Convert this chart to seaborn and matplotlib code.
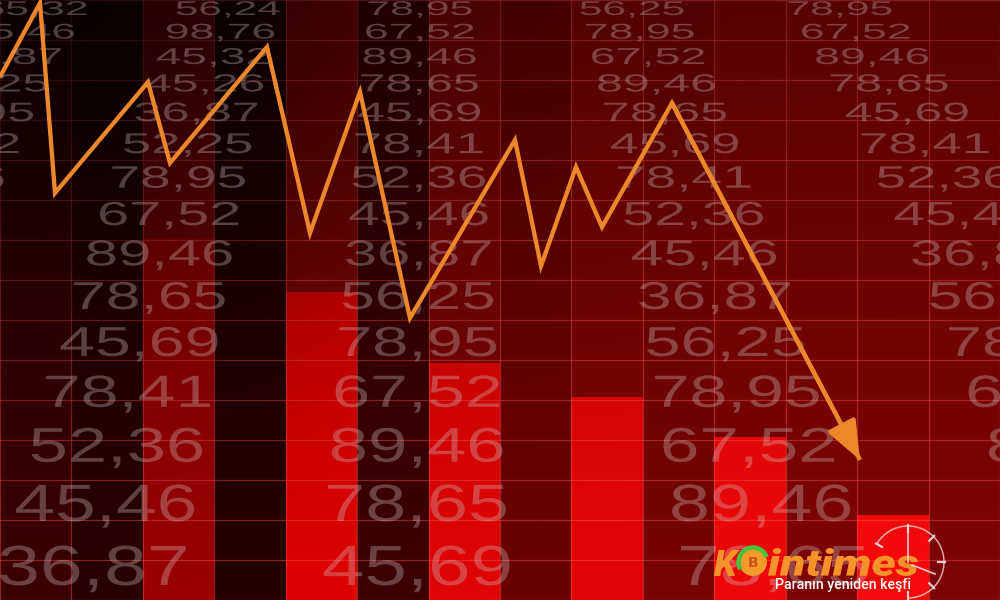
import numpy as np
import matplotlib
matplotlib.use("Agg")
import matplotlib.pyplot as plt
import pandas as pd
import seaborn as sns
from matplotlib.textpath import TextPath
from matplotlib.patches import PathPatch, Circle, Arc
from matplotlib.font_manager import FontProperties
from matplotlib.transforms import Affine2D

# DATA
# columns of the bar panel, height of each column (px from bottom) and its fill
columns = [f"c{i}" for i in range(14)]
column_height = [600, 600, 362, 600, 308, 600, 237, 600, 203, 600, 163, 600, 85, 600]
column_color = ["#3c0000", "#2a0000", "#9c0000", "#260000", "#e00000", "#3c0000", "#e00404",
                "#6a0202", "#e40606", "#760404", "#ec0808", "#7c0404", "#f40a0a", "#7c0404"]

# falling price line (last point is the arrow tip)
trend_time = [0, 40, 55, 148, 170, 267, 310, 360, 410, 515, 541, 576, 602, 672, 860]
trend_price = [523, 597, 407, 518, 437, 553, 367, 508, 282, 460, 334, 433, 373, 497, 140]

# quote board, one list per column, top row first
quotes_1 = ["65,32", "45,46", "36,87", "56,25", "78,95", "67,52", "89,46", "78,65",
            "45,69", "78,41", "52,36", "45,46", "36,87", "56,25", "78,95"]
quotes_2 = ["56,24", "98,76", "45,32", "45,26", "36,87", "52,25", "78,95", "67,52",
            "89,46", "78,65", "45,69", "78,41", "52,36", "45,46", "36,87"]
quotes_3 = ["78,95", "67,52", "89,46", "78,65", "45,69", "78,41", "52,36", "45,46",
            "36,87", "56,25", "78,95", "67,52", "89,46", "78,65", "45,69"]
quotes_4 = ["56,25", "78,95", "67,52", "89,46", "78,65", "45,69", "78,41", "52,36",
            "45,46", "36,87", "56,25", "78,95", "67,52", "89,46", "78,65"]
quotes_5 = ["78,95", "67,52", "89,46", "78,65", "45,69", "78,41", "52,36", "45,46",
            "36,87", "56,25", "78,95", "67,52", "89,46", "78,65", "45,69"]
quote_board = [quotes_1, quotes_2, quotes_3, quotes_4, quotes_5]

brand = "intimes"
slogan = "Paranın yeniden keşfi"

# FIGURE
W, H = 1000, 600
panel = "#7c0404"
line_orange = "#ec872c"

fig = plt.figure(figsize=(10, 6), dpi=100, facecolor=panel)
ax = fig.add_axes([0, 0, 1, 1])
ax.set_facecolor(panel)

# bars of the panel
df = pd.DataFrame({"column": columns, "height": column_height})
sns.barplot(data=df, x="column", y="height", hue="column",
            palette=dict(zip(columns, column_color)), saturation=1, width=1.0,
            errorbar=None, legend=False, linewidth=0, ax=ax)

# grid on top of bars
ax.set_xticks(np.arange(-0.5, 14, 1))
ax.set_yticks(np.arange(0, 601, 40))
ax.set_axisbelow(False)
ax.grid(True, color="#ff5050", alpha=0.45, lw=0.9)
ax.tick_params(length=0, labelbottom=False, labelleft=False)
for s in ax.spines.values():
    s.set_visible(False)
ax.set_xlabel("")
ax.set_ylabel("")

# dark vignette toward the top left
yy, xx = np.mgrid[0:H, 0:W].astype(float)
a1 = 0.66 * np.exp(-((xx / 380) ** 2 + (yy / 320) ** 2))
a2 = 0.30 * (1 - yy / H) ** 1.5
alpha = 1 - (1 - a1) * (1 - a2)
shade = np.zeros((H, W, 4))
shade[..., 3] = alpha
ax.imshow(shade, extent=(-0.5, 13.5, 0, H), origin="upper", aspect="auto", zorder=3)
ax.set_xlim(-0.5, 13.5)

# overlay axes in pixel units
ax2 = ax.twiny()
ax2.set_xlim(0, W)
ax2.axis("off")

# quote numbers, laid out in a simple perspective
num_font = FontProperties(family="Liberation Sans")
digit_h = TextPath((0, 0), "0", size=1, prop=num_font).get_extents().height
col_offset = [-390, -197, -5, 207, 415]
for ci, col in enumerate(quote_board):
    for r, s in enumerate(col):
        y_img = 8 + 23 * (1.08 ** r - 1) / 0.08
        h = 14 * 1.078 ** r
        w = 103 * 1.043 ** r
        xc = 425 + col_offset[ci] * 1.038 ** r
        tp = TextPath((0, 0), s, size=1, prop=num_font)
        ext = tp.get_extents()
        tr = (Affine2D().translate(-ext.x0 - ext.width / 2, -digit_h / 2)
              .scale(w / ext.width, h / digit_h).translate(xc, H - y_img))
        ax2.add_patch(PathPatch(tr.transform_path(tp), fc="#d2c6c6", ec="none",
                                alpha=0.33, zorder=4))

# orange price line with arrow head
sns.lineplot(x=trend_time, y=trend_price, ax=ax2, color=line_orange, lw=3.1,
             sort=False, solid_joinstyle="miter", solid_capstyle="butt", zorder=5)
ax2.annotate("", xy=(trend_time[-1], trend_price[-1]), xytext=(trend_time[-2], trend_price[-2]),
             arrowprops=dict(arrowstyle="-|>,head_length=0.85,head_width=0.34",
                             mutation_scale=28, lw=3.1, color=line_orange,
                             shrinkA=0, shrinkB=0), zorder=5)

# logo
logo_font = FontProperties(family="Roboto", weight="heavy", style="italic")


def fit_text(s, x0, x1, y0, y1, color, font):
    tp = TextPath((0, 0), s, size=1, prop=font)
    ext = tp.get_extents()
    tr = (Affine2D().translate(-ext.x0, -ext.y0)
          .scale((x1 - x0) / ext.width, (y1 - y0) / ext.height).translate(x0, y0))
    ax2.add_patch(PathPatch(tr.transform_path(tp), fc=color, ec="none", zorder=7))


fit_text("K", 714, 740, H - 576, H - 550, "#f5932a", logo_font)
fit_text(brand, 768, 918, H - 576, H - 548, "#f5932a", logo_font)
ax2.add_patch(Circle((753, H - 562), 14, fc="#f39a2b", ec="none", zorder=7))
ax2.add_patch(Arc((753, H - 562), 29, 29, theta1=20, theta2=210, color="#49c13c", lw=3.2, zorder=8))
ax2.text(753, H - 563, "B", ha="center", va="center", fontsize=10, fontweight="bold",
         color="#c9541a", zorder=8)
ax2.text(775, H - 585, slogan, ha="left", va="center", fontsize=10.2, family="Roboto",
         fontweight="medium", color="white", zorder=7)

# clock ring
ax2.add_patch(Arc((908, H - 562), 72, 72, theta1=-90, theta2=150, color="#f0d0d0",
                  lw=1.1, alpha=0.8, zorder=7))
for ang in [150, 90, 45, 0, -45, -90]:
    t = np.deg2rad(ang)
    ax2.plot([908 + 30 * np.cos(t), 908 + 37 * np.cos(t)],
             [H - 562 + 30 * np.sin(t), H - 562 + 37 * np.sin(t)],
             color="#f4dede", lw=1.6, alpha=0.9, zorder=7)
ax2.plot([908, 908], [H - 562, H - 527], color="#f4dede", lw=1.2, alpha=0.9, zorder=7)
ax2.plot([912, 935], [H - 565, H - 574], color="#f4dede", lw=1.2, alpha=0.9, zorder=7)

ax.set_ylim(0, H)
ax2.set_ylim(0, H)
ax2.set_xlim(0, W)

fig.savefig("out.png", dpi=100, facecolor=panel)
